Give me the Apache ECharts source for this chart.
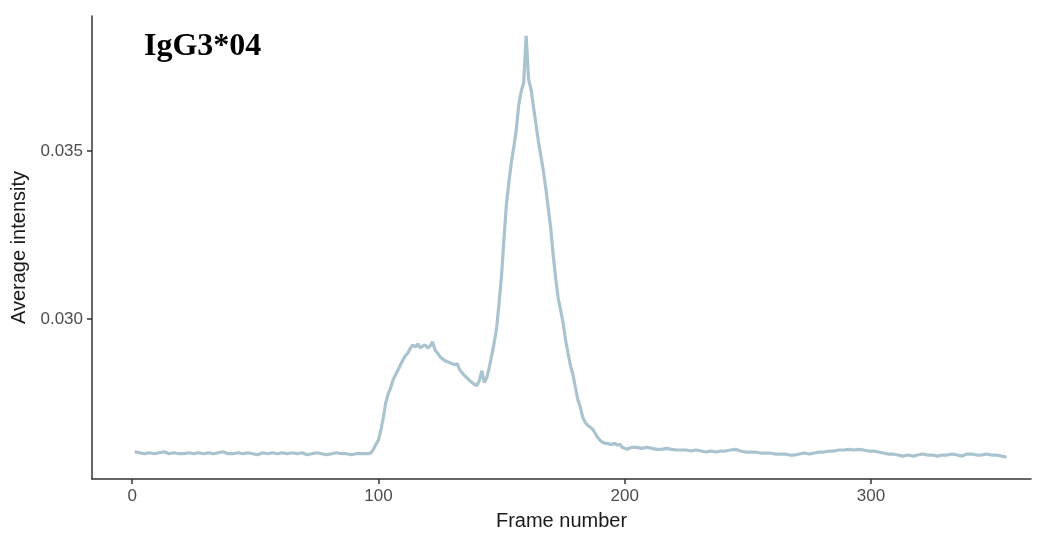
<!DOCTYPE html>
<html>
<head>
<meta charset="utf-8">
<script src="https://cdn.jsdelivr.net/npm/echarts@6/dist/echarts.min.js"></script>
<style>html,body{margin:0;padding:0;background:#fff;}#c{width:1039px;height:536px;}</style>
</head>
<body>
<div id="c"></div>
<script>
var chartTitle = 'IgG3*04';
var xName = 'Frame number';
var yName = 'Average intensity';
var xTicks = [0, 100, 200, 300];
var yTicks = [0.030, 0.035];
var frames = [
  1,3,5,7,9,11,13,15,17,19,21,23,25,27,29,31,33,35,37,39,41,43,45,47,49,
  51,53,55,57,59,61,63,65,67,69,71,73,75,77,79,81,83,85,87,89,91,93,95,
  96,97,98,99,100,101,102,103,104,105,106,107,108,109,110,111,112,113,114,115,
  116,117,118,119,120,121,122,123,124,125,126,127,128,129,130,131,132,133,134,135,
  136,137,138,139,140,141,142,143,144,145,146,147,148,149,150,151,152,153,154,155,
  156,157,158,159,160,161,162,163,164,165,166,167,168,169,170,171,172,173,174,175,
  176,177,178,179,180,181,182,183,184,185,186,187,188,189,190,191,192,193,194,195,
  196,197,198,199,
  201,203,205,207,209,211,213,215,217,219,221,223,225,227,229,231,233,235,237,239,
  241,243,245,247,249,251,253,255,257,259,261,263,265,267,269,271,273,275,277,279,
  281,283,285,287,289,291,293,295,297,299,301,303,305,307,309,311,313,315,317,319,
  321,323,325,327,329,331,333,335,337,339,341,343,345,347,349,351,353,355
];
var intensity = [
  0.02605,0.02602,0.02599,0.02602,0.02599,0.02602,0.02605,0.02599,0.02602,0.02599,
  0.02599,0.02602,0.02599,0.02602,0.02599,0.02602,0.02599,0.02602,0.02605,0.02599,
  0.02599,0.02602,0.02599,0.02602,0.02599,0.02596,0.02602,0.02599,0.02602,0.02599,
  0.02602,0.02599,0.02602,0.02599,0.02602,0.02596,0.02599,0.02602,0.02599,0.02596,
  0.02599,0.02602,0.02599,0.02599,0.02596,0.02599,0.02599,0.02599,
  0.02599,0.02602,0.02612,0.02627,0.02639,0.02669,0.02707,0.02751,0.02778,0.02796,
  0.02820,0.02834,0.02849,0.02864,0.02879,0.02891,0.02899,0.02914,0.02923,0.02917,
  0.02926,0.02914,0.02920,0.02923,0.02914,0.02920,0.02932,0.02908,0.02899,0.02888,
  0.02882,0.02876,0.02873,0.02870,0.02867,0.02864,0.02867,0.02849,0.02840,0.02831,
  0.02825,0.02817,0.02811,0.02805,0.02802,0.02817,0.02846,0.02811,0.02825,0.02855,
  0.02891,0.02929,0.02973,0.03047,0.03130,0.03240,0.03343,0.03408,0.03467,0.03512,
  0.03565,0.03639,0.03678,0.03704,0.03843,0.03713,0.03683,0.03630,0.03580,0.03527,
  0.03485,0.03441,0.03388,0.03328,0.03269,0.03189,0.03121,0.03062,0.03027,0.02988,
  0.02938,0.02899,0.02861,0.02834,0.02796,0.02760,0.02737,0.02707,0.02692,0.02683,
  0.02678,0.02672,0.02660,0.02648,0.02639,0.02633,0.02630,0.02630,0.02627,0.02627,
  0.02630,0.02624,0.02627,0.02618,
  0.02612,0.02618,0.02618,0.02615,0.02618,0.02615,0.02612,0.02612,0.02615,0.02612,
  0.02610,0.02610,0.02610,0.02607,0.02610,0.02607,0.02604,0.02607,0.02604,0.02607,
  0.02607,0.02610,0.02612,0.02607,0.02604,0.02604,0.02604,0.02601,0.02601,0.02601,
  0.02598,0.02598,0.02598,0.02595,0.02595,0.02598,0.02601,0.02598,0.02601,0.02604,
  0.02604,0.02607,0.02607,0.02610,0.02610,0.02612,0.02610,0.02612,0.02610,0.02607,
  0.02607,0.02604,0.02601,0.02598,0.02598,0.02595,0.02592,0.02595,0.02592,0.02595,
  0.02598,0.02595,0.02595,0.02592,0.02595,0.02595,0.02598,0.02595,0.02592,0.02598,
  0.02598,0.02595,0.02595,0.02598,0.02595,0.02595,0.02592,0.02589
];

var seriesData = frames.map(function (f, i) { return [f, intensity[i]]; });

var chart = echarts.init(document.getElementById('c'), null, {renderer: 'canvas'});
var axisLineStyle = {show: true, onZero: false, lineStyle: {color: '#333333', width: 1.5}};
var tickStyle = {show: true, length: 5, lineStyle: {color: '#333333', width: 1.5}};
var nameStyle = {color: '#1a1a1a', fontSize: 20, fontFamily: 'Liberation Sans'};
chart.setOption({
  animation: false,
  backgroundColor: '#ffffff',
  title: {
    text: chartTitle,
    left: 139,
    top: 26,
    textStyle: {fontFamily: 'Liberation Serif', fontWeight: 'bold', fontSize: 32, color: '#000000'}
  },
  grid: {left: 92, right: 8, top: 16, bottom: 52, containLabel: false},
  xAxis: {
    type: 'value',
    min: -16.3,
    max: 365,
    name: xName,
    nameLocation: 'middle',
    nameGap: 32,
    nameTextStyle: nameStyle,
    axisLine: axisLineStyle,
    splitLine: {show: false},
    axisTick: Object.assign({}, tickStyle, {customValues: xTicks}),
    axisLabel: {customValues: xTicks, color: '#4d4d4d', fontSize: 17, fontFamily: 'Liberation Sans', margin: 9}
  },
  yAxis: {
    type: 'value',
    min: 0.025237,
    max: 0.039024,
    name: yName,
    nameLocation: 'middle',
    nameGap: 60,
    nameRotate: 90,
    nameTextStyle: nameStyle,
    axisLine: axisLineStyle,
    splitLine: {show: false},
    axisTick: Object.assign({}, tickStyle, {customValues: yTicks}),
    axisLabel: {customValues: yTicks, color: '#4d4d4d', fontSize: 17, fontFamily: 'Liberation Sans', margin: 9,
      formatter: function (v) { return v.toFixed(3); }}
  },
  series: [{
    type: 'line',
    data: seriesData,
    showSymbol: false,
    smooth: false,
    lineStyle: {color: '#a9c4ce', width: 3.2},
    itemStyle: {color: '#a9c4ce'}
  }]
});
</script>
</body>
</html>
